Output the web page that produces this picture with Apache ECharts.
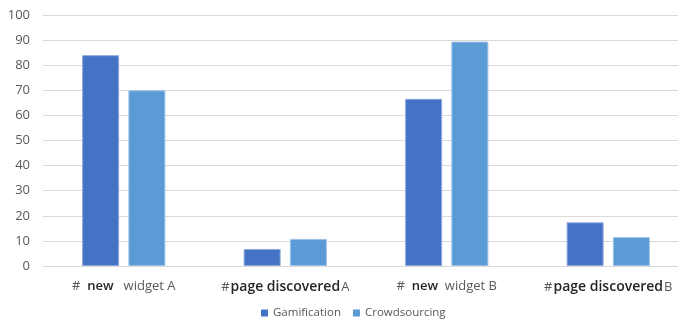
<!DOCTYPE html>
<html lang="en">
<head>
    <meta charset="UTF-8">
    <title>Gamification vs Crowdsourcing</title>
    <style>
        html, body { margin: 0; padding: 0; background: #fff; }
    </style>
</head>
<body>
    <div id="chart" style="width: 678px;height:320px;"></div>
</body>
</html>
<script src="https://cdn.jsdelivr.net/npm/echarts@6/dist/echarts.min.js"></script>
<script type="text/javascript">
    // category labels: prefix, bold part, suffix (bold style per label)
    const categories = ['# new widget A', '#page discovered A', '# new widget B', '#page discovered B'];
    const labelPrefix = ['#  ', '#', '#  ', '#'];
    const labelBold = ['new', 'page discovered', 'new', 'page discovered'];
    const labelBoldStyle = ['b', 'p', 'b', 'p'];
    const labelSuffix = ['   widget A', 'A', '  widget B', 'B'];

    const gamification = [84, 6.8, 66.6, 17.4];
    const crowdsourcing = [70, 10.8, 89.4, 11.5];

    const yTicks = [0, 10, 20, 30, 40, 50, 60, 70, 80, 90, 100];

    const chart = echarts.init(document.getElementById('chart'));

    const font = '"Open Sans", "Noto Sans", sans-serif';

    chart.setOption({
        animation: false,
        textStyle: { fontFamily: font },
        grid: { left: 43, top: 15, width: 646, height: 251, containLabel: false, outerBoundsMode: 'none' },
        legend: {
            top: 302,
            left: 256,
            itemWidth: 7,
            itemHeight: 7,
            itemGap: 12,
            icon: 'rect',
            itemStyle: { borderWidth: 0 },
            textStyle: { color: '#595959', fontSize: 11.5, fontFamily: font }
        },
        xAxis: {
            type: 'category',
            data: categories,
            axisLine: { lineStyle: { color: '#d9d9d9' } },
            axisTick: { show: false },
            axisLabel: {
                margin: 14,
                interval: 0,
                formatter: (v, i) => '{g|' + labelPrefix[i] + '}{' + labelBoldStyle[i] + '|' + labelBold[i] + '}{g|' + labelSuffix[i] + '}',
                rich: {
                    g: { color: '#595959', fontSize: 13, fontFamily: font },
                    b: { color: '#262626', fontSize: 13, fontWeight: 600, fontFamily: font },
                    p: { color: '#262626', fontSize: 14, fontWeight: 600, fontFamily: font, padding: [0, 1, 0, 1] }
                }
            }
        },
        yAxis: {
            type: 'value',
            min: yTicks[0],
            max: yTicks[yTicks.length - 1],
            interval: 10,
            axisLine: { show: false },
            axisTick: { show: false },
            axisLabel: { color: '#595959', fontSize: 13, margin: 13, fontFamily: font },
            splitLine: { lineStyle: { color: '#d9d9d9' } }
        },
        series: [
            {
                name: 'Gamification',
                type: 'bar',
                data: gamification,
                barWidth: 37,
                barGap: '25%',
                itemStyle: { color: '#4472C4', borderColor: '#8fa9dc', borderWidth: 1 }
            },
            {
                name: 'Crowdsourcing',
                type: 'bar',
                data: crowdsourcing,
                barWidth: 37,
                itemStyle: { color: '#5B9BD5', borderColor: '#9cc3e8', borderWidth: 1 }
            }
        ]
    });
</script>
